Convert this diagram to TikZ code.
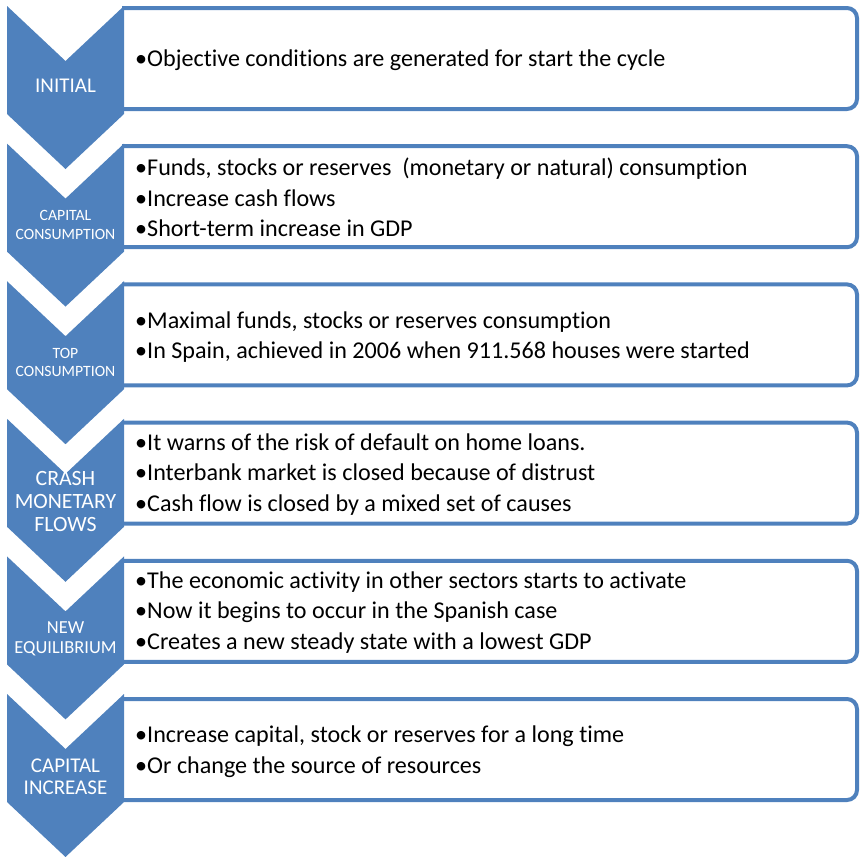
\documentclass[tikz,border=0pt]{standalone}
\usepackage{fontspec}
\setmainfont[Ligatures=NoCommon]{Carlito}
\definecolor{obl}{HTML}{4F81BD}
\tikzset{
  chev/.style={fill=obl,draw=none},
  boxline/.style={draw=obl,line width=4pt,rounded corners=10pt},
  lbl/.style={text=white,align=center,inner sep=0pt},
  body/.style={anchor=west,align=left,inner sep=0pt,text=black,font=\fontsize{24.1}{30.7}\selectfont}
}
\newcommand{\chevat}[1]{%
  \fill[chev] (7,#1) -- (65.5,#1+55) -- (124,#1) -- (124,#1+108) -- (65.5,#1+163) -- (7,#1+108) -- cycle;}
\newcommand{\boxat}[1]{%
  \draw[boxline] (122,#1) -- (857,#1) -- (857,#1+101) -- (122,#1+101);}
\begin{document}
\begin{tikzpicture}[x=1pt,y=-1pt]
\useasboundingbox (0,0) rectangle (860,857);
% boxes
\foreach \t in {8,146.2,284.4,422.6,560.8,699} {\boxat{\t}}
% chevrons
\foreach \t in {6,143.6,281.2,418.8,556.4,694} {\chevat{\t}}
% labels
\node[lbl,font=\fontsize{21}{23}\selectfont] (l1) at (65.5,86) {INITIAL};
\node[lbl,font=\fontsize{15.7}{19}\selectfont] (l2) at (65.5,224.5) {CAPITAL\\CONSUMPTION};
\node[lbl,font=\fontsize{15.7}{18}\selectfont] (l3) at (65.5,362.5) {TOP\\CONSUMPTION};
\node[lbl,font=\fontsize{21.8}{23}\selectfont] (l4) at (65.5,501) {CRASH\\MONETARY\\FLOWS};
\node[lbl,font=\fontsize{18.4}{20}\selectfont] (l5) at (65.5,639) {NEW\\EQUILIBRIUM};
\node[lbl,font=\fontsize{21}{22}\selectfont] (l6) at (65.5,777) {CAPITAL\\INCREASE};
% texts
\node[body] (t1) at (135,60) {•Objective conditions are generated for start the cycle};
\node[body] (t2) at (135,197.5) {•Funds, stocks or reserves\ \ (monetary or natural) consumption\\•Increase cash flows\\•Short-term increase in GDP};
\node[body] (t3) at (135,337) {•Maximal funds, stocks or reserves consumption\\•In Spain, achieved in 2006 when 911.568 houses were started};
\node[body] (t4) at (135,474.5) {•It warns of the risk of default on home loans.\\•Interbank market is closed because of distrust\\•Cash flow is closed by a mixed set of causes};
\node[body] (t5) at (135,612.5) {•The economic activity in other sectors starts to activate\\•Now it begins to occur in the Spanish case\\•Creates a new steady state with a lowest GDP};
\node[body] (t6) at (135,752) {•Increase capital, stock or reserves for a long time\\•Or change the source of resources};
\end{tikzpicture}
\end{document}
